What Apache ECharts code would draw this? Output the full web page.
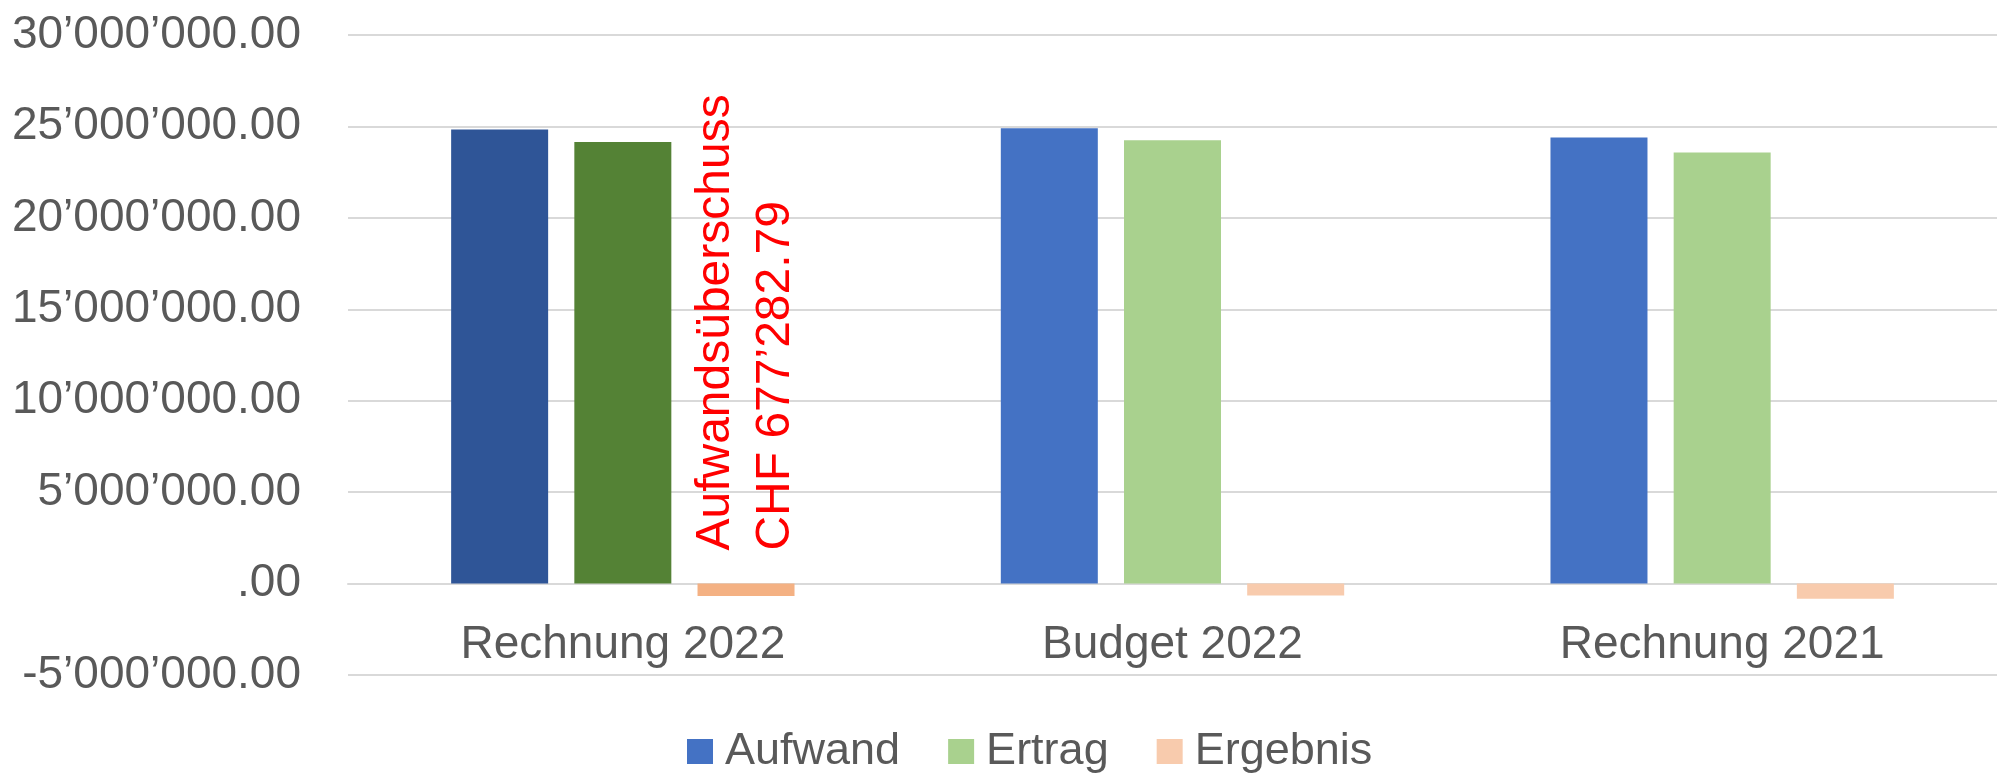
<!DOCTYPE html>
<html>
<head>
<meta charset="utf-8">
<script src="https://cdn.jsdelivr.net/npm/echarts@6/dist/echarts.min.js"></script>
<style>
  html, body { margin: 0; padding: 0; background: #fff; }
  #chart { width: 1997px; height: 774px; }
</style>
</head>
<body>
<div id="chart"></div>
<script>
const categories = ["Rechnung 2022", "Budget 2022", "Rechnung 2021"];
const seriesNames = ["Aufwand", "Ertrag", "Ergebnis"];
const aufwand = [24830000, 24900000, 24400000];
const ertrag = [24152717.21, 24250000, 23570000];
const ergebnis = [-677282.79, -650000, -830000];
const yTicks = { min: -5000000, max: 30000000, interval: 5000000 };

// Excel-Farben; die aktuelle Rechnung ist dunkler eingefärbt
const colors = ["#4472C4", "#A9D18E", "#F8CBAD"];
const darkColors = ["#2F5597", "#548235", "#F4B183"];
const font = "'Liberation Sans', Arial, sans-serif";
const grey = "#595959";

function fmt(v) {
  const s = Math.abs(v).toFixed(2).split(".");
  let int = s[0].replace(/\B(?=(\d{3})+(?!\d))/g, "\u2019");
  if (int === "0") int = "";
  return (v < 0 ? "-" : "") + int + "." + s[1];
}

function buildData(values, idx) {
  return values.map((v, i) => {
    const item = { value: v };
    if (i === 0) item.itemStyle = { color: darkColors[idx] };
    return item;
  });
}

const ergebnisData = buildData(ergebnis, 2);
ergebnisData[0].label = {
  show: true,
  position: "top",
  distance: 33,
  rotate: 90,
  align: "left",
  verticalAlign: "middle",
  color: "#FF0000",
  fontFamily: font,
  fontSize: 48,
  lineHeight: 60,
  formatter: (p) => "Aufwandsüberschuss\nCHF " + fmt(-p.value),
};

const chart = echarts.init(document.getElementById("chart"));
chart.setOption({
  animation: false,
  color: colors,
  textStyle: { fontFamily: font },
  grid: { left: 348, top: 35, width: 1662, height: 640 },
  legend: {
    data: seriesNames,
    left: 682,
    top: 724,
    itemWidth: 26,
    itemHeight: 25,
    itemGap: 48,
    icon: "rect",
    textStyle: { color: grey, fontSize: 45, fontFamily: font, padding: [0, 0, 0, 7] },
  },
  xAxis: {
    type: "category",
    data: categories,
    axisLine: { onZero: true, lineStyle: { color: "#D9D9D9", width: 2 } },
    axisTick: { show: false },
    // Beschriftung direkt unter der Nulllinie, nicht am Rasterende
    axisLabel: { color: grey, fontSize: 46, fontFamily: font, margin: -53 },
  },
  yAxis: {
    type: "value",
    min: yTicks.min,
    max: yTicks.max,
    interval: yTicks.interval,
    axisLine: { show: false },
    axisTick: { show: false },
    splitLine: { lineStyle: { color: "#D9D9D9", width: 2 } },
    axisLabel: {
      color: grey,
      fontSize: 46,
      fontFamily: font,
      margin: 47,
      formatter: (v) => fmt(v),
    },
  },
  series: [
    { name: seriesNames[0], type: "bar", barWidth: 97, barGap: "27%", data: buildData(aufwand, 0) },
    { name: seriesNames[1], type: "bar", barWidth: 97, barGap: "27%", data: buildData(ertrag, 1) },
    { name: seriesNames[2], type: "bar", barWidth: 97, barGap: "27%", data: ergebnisData },
  ],
});
</script>
</body>
</html>
